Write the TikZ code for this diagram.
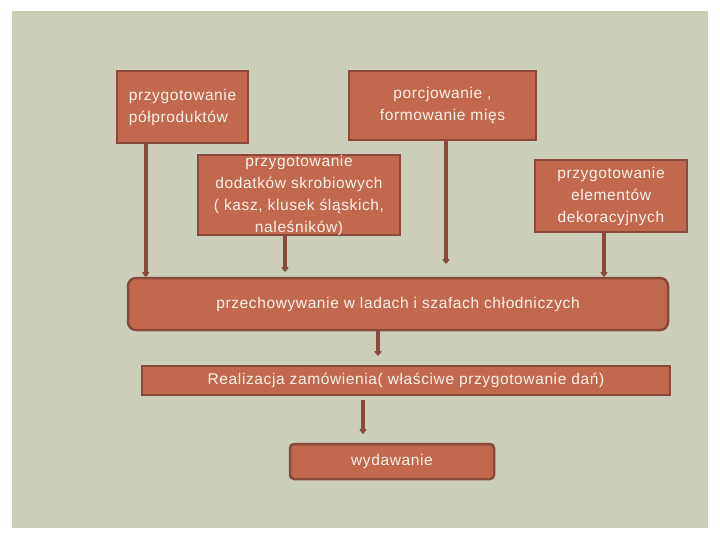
\documentclass[tikz,border=0pt]{standalone}
\usepackage{fontspec}
\setmainfont{Liberation Sans}[LetterSpace=4]
\usetikzlibrary{arrows.meta}
\definecolor{tlo}{HTML}{CCCFB8}
\definecolor{cegla}{HTML}{C2684F}
\definecolor{ramka}{HTML}{8A4A3B}
\definecolor{napis}{HTML}{FAF3EC}

\begin{document}
\begin{tikzpicture}[x=1pt, y=-1pt,
                    box/.style={draw=ramka,fill=cegla,line width=2.5pt,text=napis,inner sep=0pt,
                                align=center,font=\fontsize{15.5}{22}\selectfont},
                    link/.style={draw=ramka,line width=3.5pt,-{Triangle[length=5pt,width=8pt,round]}}]

  \useasboundingbox (0,0) rectangle (720,540);
  \fill[white] (0,0) rectangle (720,540);
  \fill[tlo] (12,11) rectangle (708,528);

  \node[box, minimum width=131, minimum height=72, align=left] (A) at (182.5,107) {przygotowanie\\półproduktów};
  \node[box, minimum width=187, minimum height=69] (B) at (442.5,105.5) {porcjowanie ,\\formowanie mięs};
  \node[box, minimum width=202, minimum height=80] (C) at (299,195) {przygotowanie\\dodatków skrobiowych\\( kasz, klusek śląskich,\\naleśników)};
  \node[box, minimum width=152, minimum height=72] (D) at (611,196) {przygotowanie\\elementów\\dekoracyjnych};
  \node[box, rounded corners=8pt, minimum width=540, minimum height=52] (E) at (398,304) {przechowywanie w ladach i szafach chłodniczych};
  \node[box, minimum width=528, minimum height=29] (F) at (406,380.5) {Realizacja zamówienia( właściwe przygotowanie dań)};
  \node[box, rounded corners=4pt, minimum width=204, minimum height=35] (G) at (392,461.5) {wydawanie};

  \draw[link] ([xshift=30]A.south west) -- ([xshift=30]A.south west |- E.north);
  \draw[link] ([xshift=-14]C.south) -- ([xshift=-14,yshift=5]C.south |- E.north);
  \draw[link] ([xshift=3.5]B.south) -- ([xshift=3.5,yshift=13]B.south |- E.north);
  \draw[link] ([xshift=-7]D.south) -- ([xshift=-7]D.south |- E.north);
  \draw[link] ([xshift=-20]E.south) -- ([xshift=-20,yshift=9]E.south |- F.north);
  \draw[link] ([xshift=-43,yshift=-4]F.south) -- ([xshift=-43,yshift=9]F.south |- G.north);
\end{tikzpicture}
\end{document}
